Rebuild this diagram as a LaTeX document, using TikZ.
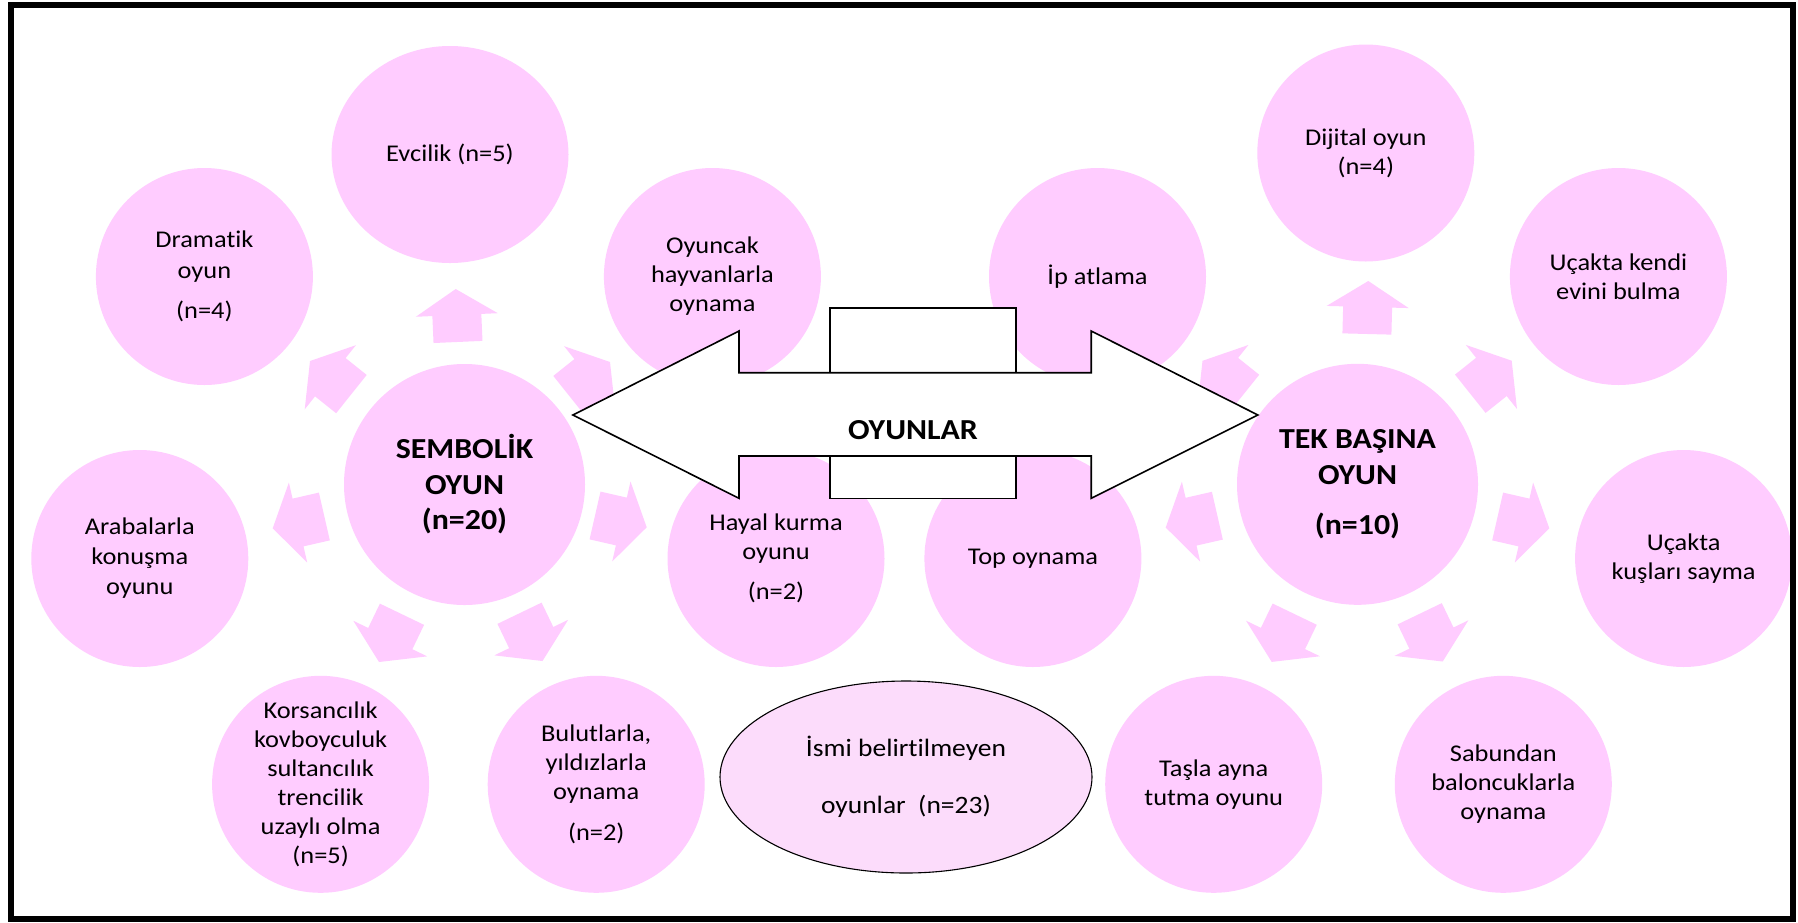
\documentclass[tikz,border=0pt]{standalone}
\usepackage{fontspec}
\setmainfont{Carlito}[FakeStretch=1.1, Ligatures=NoCommon]
\usetikzlibrary{shapes.geometric}
\definecolor{petal}{HTML}{FFCCFF}
\definecolor{petallight}{HTML}{FCDCFB}

\tikzset{
  every node/.style={font=\fontsize{24pt}{29pt}\selectfont, align=center, inner sep=0pt, text=black},
  leaf/.style={circle, fill=petal, minimum size=217pt},
  hub/.style={circle, fill=petal, minimum size=241pt,
    font=\bfseries\fontsize{29pt}{35.5pt}\selectfont},
  outline/.style={draw=black, line width=1.6pt, fill=white, line join=miter},
  pics/spoke/.style={code={
    \fill[petal] (0,0) -- (-26,41) -- (-26,24.5) -- (-53,24.5)
      -- (-53,-24.5) -- (-26,-24.5) -- (-26,-41) -- cycle;}}
}

\begin{document}
\begin{tikzpicture}[x=1pt, y=-1pt]
\useasboundingbox (0,0) rectangle (1798,922);
\fill[white] (0,0) rectangle (1798,922);

% --- symbolic play cluster ---
\node[hub] (semb) at (464.5,484.5) {SEMBOLİK\\OYUN\\(n=20)};
\node[ellipse, fill=petal, minimum width=237pt, minimum height=217pt] (evcilik) at (450,154.5) {Evcilik (n=5)};
\node[leaf] (dramatik) at (204.4,276.5) {Dramatik\\[2pt]oyun\\[11pt](n=4)};
\node[leaf] (oyuncak) at (712.4,276.5) {Oyuncak\\hayvanlarla\\oynama};
\node[leaf] (araba) at (139.8,558.5) {Arabalarla\\[1pt]konuşma\\[1pt]oyunu};
\node[leaf] (hayal) at (776,558.5) {Hayal kurma\\oyunu\\[11pt](n=2)};
\node[leaf] (korsan) at (320.6,784.3) {Korsancılık\\kovboyculuk\\sultancılık\\trencilik\\uzaylı olma\\(n=5)};
\node[leaf] (bulut) at (596.2,784.3) {Bulutlarla,\\yıldızlarla\\oynama\\[12pt](n=2)};

\pic[rotate=92.5]  at (455.7,289)   {spoke};
\pic[rotate=141.4] at (310,361)     {spoke};
\pic[rotate=192.9] at (272.7,528.3) {spoke};
\pic[rotate=244.3] at (379,662)     {spoke};
\pic[rotate=295.7] at (542.5,661)   {spoke};
\pic[rotate=347.1] at (646.7,527.3) {spoke};
\pic[rotate=38.6]  at (610,362)     {spoke};

% --- solitary play cluster ---
\node[hub] (tek) at (1357.5,484.3) {TEK BAŞINA\\OYUN\\[15pt](n=10)};
\node[leaf] (ip) at (1097.5,276.5) {İp atlama};
\node[leaf] (dijital) at (1365.8,153) {Dijital oyun\\(n=4)};
\node[leaf] (kendi) at (1618.4,276.5) {Uçakta kendi\\evini bulma};
\node[leaf] (kus) at (1683.6,558.5) {Uçakta\\kuşları sayma};
\node[leaf] (sabun) at (1503.3,784.3) {Sabundan\\baloncuklarla\\oynama};
\node[leaf] (tas) at (1213.7,784.3) {Taşla ayna\\tutma oyunu};
\node[leaf] (top) at (1032.9,558.5) {Top oynama};

\pic[rotate=88.5]  at (1368.3,281)   {spoke};
\pic[rotate=141.4] at (1202.5,360.8) {spoke};
\pic[rotate=192.9] at (1165.7,527.5) {spoke};
\pic[rotate=244.3] at (1271.7,661.9) {spoke};
\pic[rotate=295.7] at (1442.7,661.5) {spoke};
\pic[rotate=347.1] at (1549.3,528.3) {spoke};
\pic[rotate=38.6]  at (1511.7,360.7) {spoke};

% --- central double arrow with its box ---
\draw[outline] (830,307.7) rectangle (1016,498.3);
\draw[outline] (572.9,415) -- (739,331) -- (739,372.7) -- (1091.2,372.7)
  -- (1091.2,331) -- (1257.9,415) -- (1091.2,498.3) -- (1091.2,456)
  -- (739,456) -- (739,498.3) -- cycle;
\node[font=\bfseries\fontsize{29pt}{35pt}\selectfont] (oyunlar) at (913,430) {OYUNLAR};

% --- unnamed games ---
\node[ellipse, draw=black, line width=1.1pt, fill=petallight,
  minimum width=372pt, minimum height=192pt,
  font=\fontsize{25pt}{30pt}\selectfont] (isimsiz) at (906,777)
  {İsmi belirtilmeyen\\[26.6pt]oyunlar~~(n=23)};

% --- frame ---
\draw[line width=6pt] (11,4.5) rectangle (1793.3,919);
\end{tikzpicture}
\end{document}
